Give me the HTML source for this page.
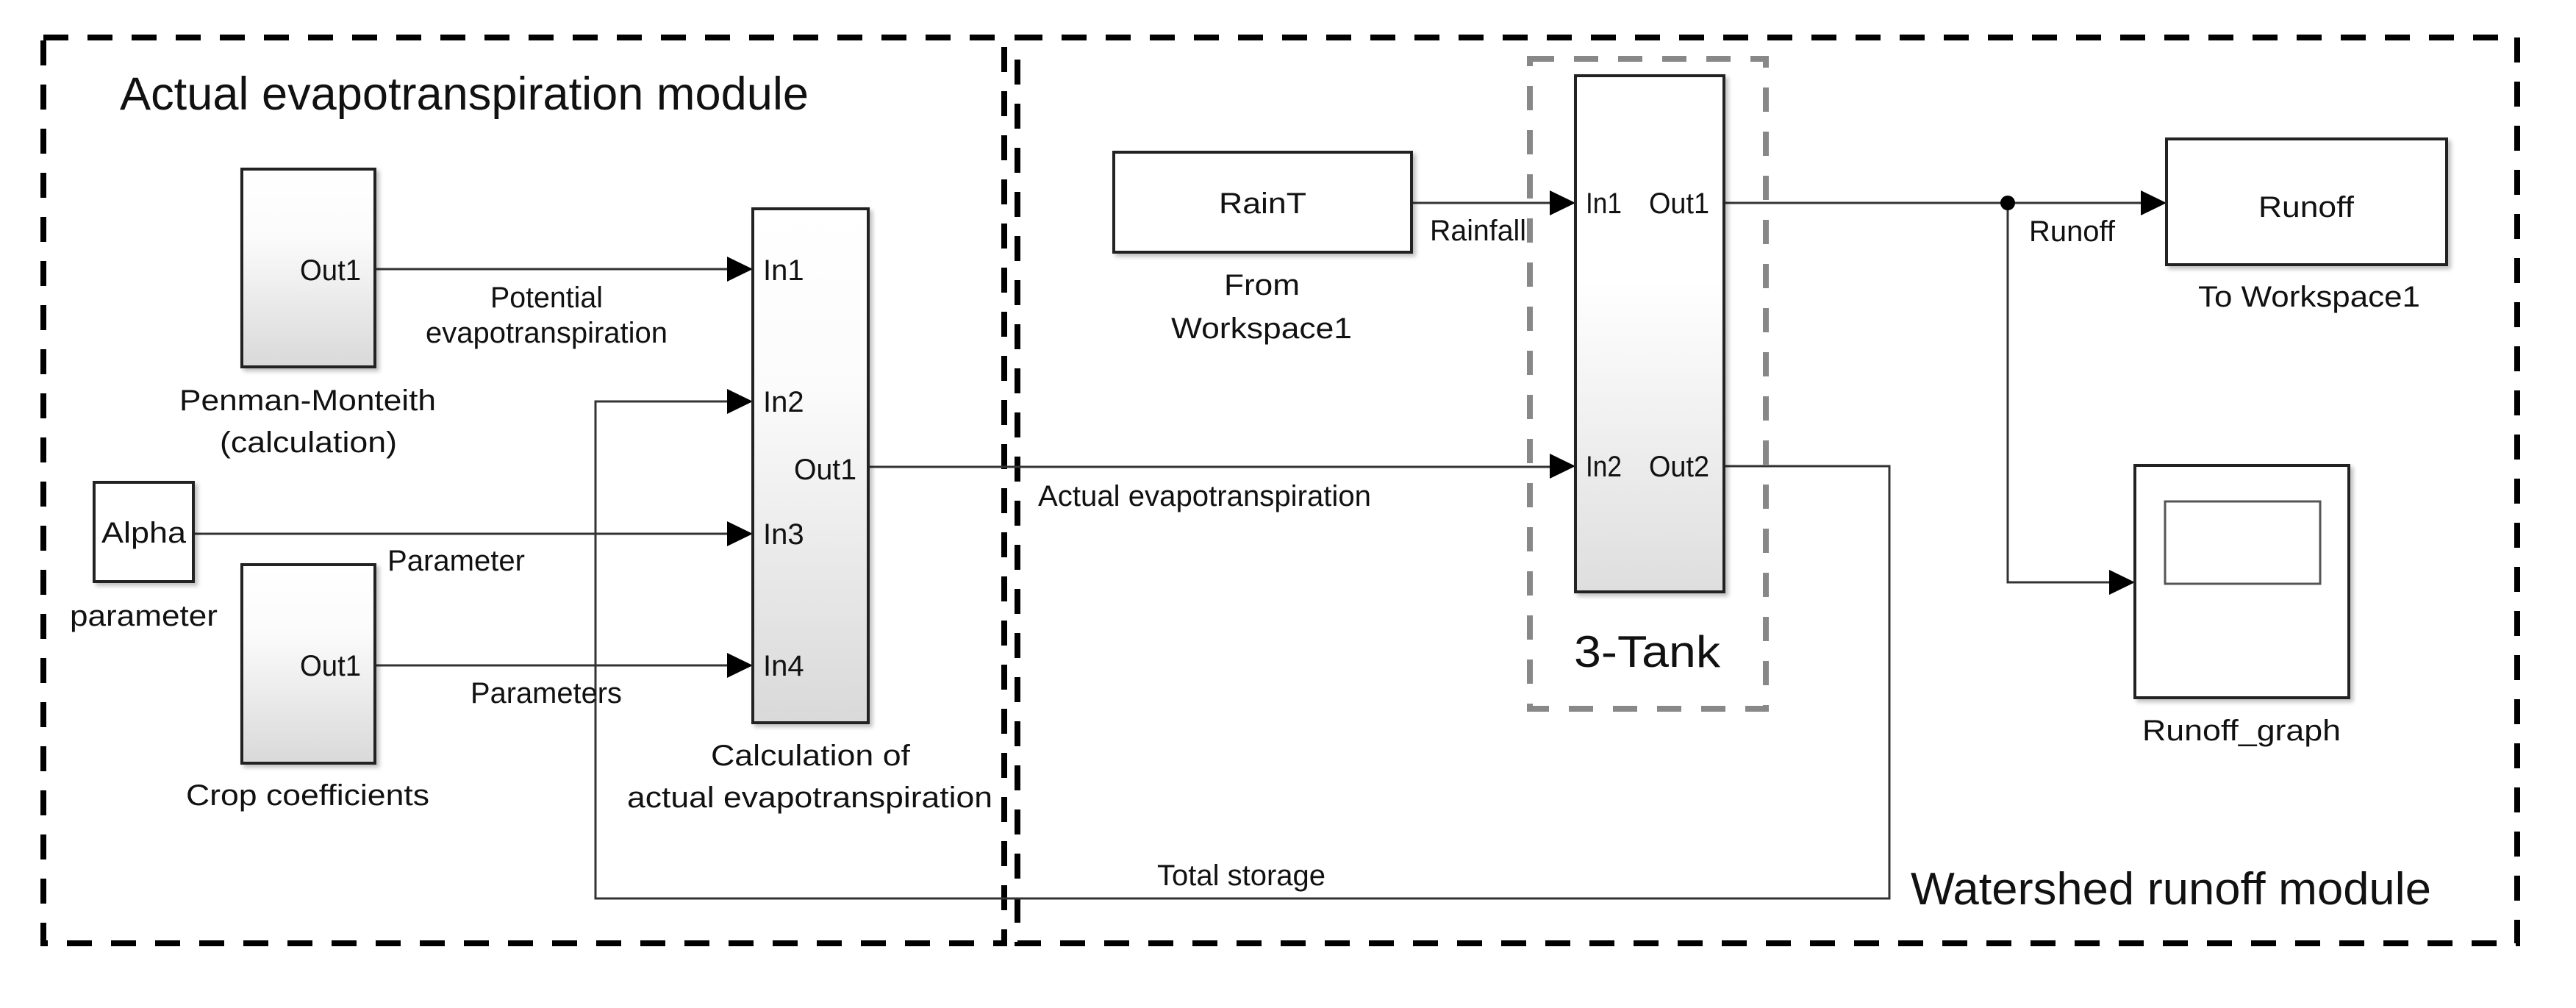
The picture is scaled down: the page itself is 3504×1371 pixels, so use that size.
<!DOCTYPE html>
<html><head><meta charset="utf-8"><style>
html,body{margin:0;padding:0;background:#fff}
svg{display:block}
text{font-family:"Liberation Sans",Arial,sans-serif;fill:#111}
</style></head><body>
<svg width="3504" height="1371" viewBox="0 0 3504 1371" xmlns="http://www.w3.org/2000/svg">
<defs>
<linearGradient id="g1" x1="0" y1="0" x2="0" y2="1">
<stop offset="0" stop-color="#ffffff"/><stop offset="0.35" stop-color="#fbfbfb"/><stop offset="1" stop-color="#d9d9d9"/>
</linearGradient>
<linearGradient id="g2" x1="0" y1="0" x2="0" y2="1">
<stop offset="0" stop-color="#ffffff"/><stop offset="0.4" stop-color="#ffffff"/><stop offset="1" stop-color="#dedede"/>
</linearGradient>
<filter id="sh" x="-10%" y="-10%" width="130%" height="130%"><feDropShadow dx="4" dy="4" stdDeviation="3" flood-color="#000" flood-opacity="0.25"/></filter>
</defs>

<!-- module dashed boxes -->
<rect x="59" y="51" width="1307" height="1232" fill="none" stroke="#000" stroke-width="8" stroke-dasharray="34,26"/>
<rect x="1384" y="51" width="2040" height="1232" fill="none" stroke="#000" stroke-width="8" stroke-dasharray="34,26"/>
<!-- 3-Tank gray dashed -->
<rect x="2081" y="80" width="321" height="884" fill="none" stroke="#888" stroke-width="8" stroke-dasharray="33,27"/>

<text x="163" y="149" font-size="63" textLength="937" lengthAdjust="spacingAndGlyphs">Actual evapotranspiration module</text>
<text x="2599" y="1230" font-size="62" textLength="708" lengthAdjust="spacingAndGlyphs">Watershed runoff module</text>

<!-- connectors -->
<g stroke="#333" stroke-width="3" fill="none">
<line x1="510" y1="366" x2="990" y2="366"/>
<line x1="263" y1="726" x2="990" y2="726"/>
<line x1="510" y1="905" x2="990" y2="905"/>
<polyline points="990,546 810,546 810,1222 2570,1222 2570,634 2345,634"/>
<line x1="1181" y1="635" x2="2110" y2="635"/>
<line x1="1920" y1="276" x2="2110" y2="276"/>
<line x1="2345" y1="276" x2="2914" y2="276"/>
<polyline points="2731,276 2731,792 2870,792"/>
</g>
<circle cx="2731" cy="276" r="10" fill="#000"/>
<g fill="#000">
<polygon points="989,349 1024,366 989,383"/>
<polygon points="989,529 1024,546 989,563"/>
<polygon points="989,709 1024,726 989,743"/>
<polygon points="989,888 1024,905 989,922"/>
<polygon points="2108,259 2143,276 2108,293"/>
<polygon points="2108,617 2143,634 2108,651"/>
<polygon points="2912,259 2947,276 2912,293"/>
<polygon points="2869,775 2904,792 2869,809"/>
</g>

<!-- blocks -->
<g stroke="#222" stroke-width="4" filter="url(#sh)">
<rect x="329" y="230" width="181" height="269" fill="url(#g1)"/>
<rect x="329" y="768" width="181" height="270" fill="url(#g1)"/>
<rect x="1024" y="284" width="157" height="699" fill="url(#g1)"/>
<rect x="128" y="656" width="135" height="135" fill="#fff"/>
<rect x="1515" y="207" width="405" height="136" fill="#fff"/>
<rect x="2143" y="103" width="202" height="702" fill="url(#g2)"/>
<rect x="2947" y="189" width="381" height="171" fill="#fff"/>
<rect x="2904" y="633" width="291" height="316" fill="#fff"/>
</g>
<rect x="2945" y="682" width="211" height="112" fill="#fff" stroke="#555" stroke-width="3"/>

<!-- left labels -->
<g font-size="40">
<text x="408" y="381" textLength="83" lengthAdjust="spacingAndGlyphs">Out1</text>
<text x="408" y="919" textLength="83" lengthAdjust="spacingAndGlyphs">Out1</text>
<text x="667" y="418" textLength="153" lengthAdjust="spacingAndGlyphs">Potential</text>
<text x="579" y="466" textLength="329" lengthAdjust="spacingAndGlyphs">evapotranspiration</text>
<text x="244" y="558" textLength="349" lengthAdjust="spacingAndGlyphs">Penman-Monteith</text>
<text x="299" y="615" textLength="241" lengthAdjust="spacingAndGlyphs">(calculation)</text>
<text x="138" y="738" textLength="115" lengthAdjust="spacingAndGlyphs">Alpha</text>
<text x="95" y="851" textLength="201" lengthAdjust="spacingAndGlyphs">parameter</text>
<text x="527" y="776" textLength="187" lengthAdjust="spacingAndGlyphs">Parameter</text>
<text x="640" y="956" textLength="206" lengthAdjust="spacingAndGlyphs">Parameters</text>
<text x="253" y="1095" textLength="331" lengthAdjust="spacingAndGlyphs">Crop coefficients</text>
<text x="1038" y="381">In1</text>
<text x="1038" y="560">In2</text>
<text x="1038" y="740">In3</text>
<text x="1038" y="919">In4</text>
<text x="1080" y="652" textLength="85" lengthAdjust="spacingAndGlyphs">Out1</text>
<text x="967" y="1041" textLength="271" lengthAdjust="spacingAndGlyphs">Calculation of</text>
<text x="853" y="1098" textLength="497" lengthAdjust="spacingAndGlyphs">actual evapotranspiration</text>
</g>

<!-- right labels -->
<g font-size="40">
<text x="1658" y="290" textLength="119" lengthAdjust="spacingAndGlyphs">RainT</text>
<text x="1665" y="401" textLength="103" lengthAdjust="spacingAndGlyphs">From</text>
<text x="1593" y="460" textLength="246" lengthAdjust="spacingAndGlyphs">Workspace1</text>
<text x="1945" y="327" textLength="131" lengthAdjust="spacingAndGlyphs">Rainfall</text>
<text x="2157" y="290" textLength="49" lengthAdjust="spacingAndGlyphs">In1</text>
<text x="2243" y="290" textLength="82" lengthAdjust="spacingAndGlyphs">Out1</text>
<text x="2157" y="648" textLength="49" lengthAdjust="spacingAndGlyphs">In2</text>
<text x="2243" y="648" textLength="82" lengthAdjust="spacingAndGlyphs">Out2</text>
<text x="2760" y="328" textLength="117" lengthAdjust="spacingAndGlyphs">Runoff</text>
<text x="3072" y="295" textLength="130" lengthAdjust="spacingAndGlyphs">Runoff</text>
<text x="2990" y="417" textLength="302" lengthAdjust="spacingAndGlyphs">To Workspace1</text>
<text x="2914" y="1007" textLength="270" lengthAdjust="spacingAndGlyphs">Runoff_graph</text>
<text x="1412" y="688" textLength="453" lengthAdjust="spacingAndGlyphs">Actual evapotranspiration</text>
<text x="1574" y="1204" textLength="229" lengthAdjust="spacingAndGlyphs">Total storage</text>
</g>
<text x="2141" y="907" font-size="60" textLength="199" lengthAdjust="spacingAndGlyphs">3-Tank</text>
</svg>
</body></html>
